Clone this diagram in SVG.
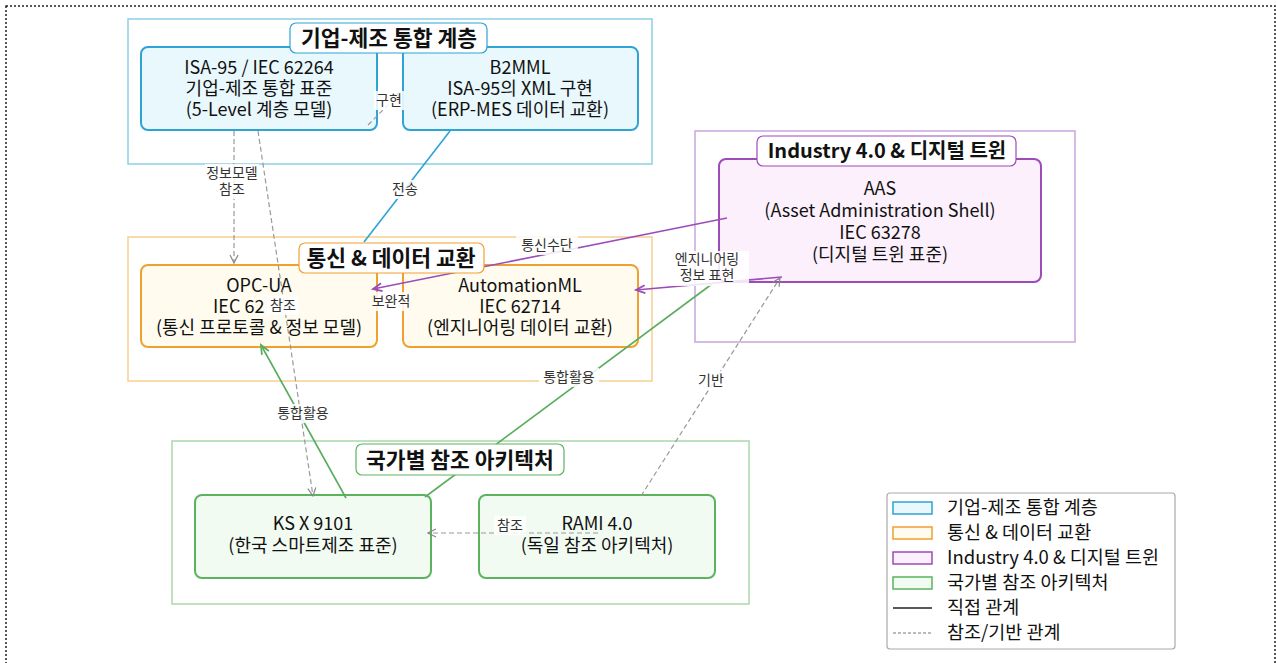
<svg xmlns="http://www.w3.org/2000/svg" width="1276" height="663" viewBox="0 0 1276 663">
<defs>
<style>
text{font-family:"Noto Sans CJK KR","Noto Sans",sans-serif;fill:#111;}
.nt{font-size:18px;text-anchor:middle;}
.tt{font-size:21.5px;font-weight:bold;text-anchor:middle;}
.el{font-size:14px;text-anchor:middle;fill:#333;}
.lg{font-size:18.5px;}
.lb{fill:#fff;fill-opacity:0.85;}
.cl{fill:none;stroke-width:1.5;}
.nd{stroke-width:2;}
.dash{fill:none;stroke:#999;stroke-width:1.2;stroke-dasharray:5,3;}
</style>
<marker id="ag" markerWidth="10" markerHeight="10" refX="9" refY="5" orient="auto" markerUnits="userSpaceOnUse"><path d="M1,1 L9,5 L1,9" fill="none" stroke="#888" stroke-width="1.2"/></marker>
<marker id="ap" markerWidth="12" markerHeight="10" refX="10" refY="5" orient="auto" markerUnits="userSpaceOnUse"><path d="M1,1 L10,5 L1,9" fill="none" stroke="#9b4cb8" stroke-width="1.8"/></marker>
<marker id="agr" markerWidth="12" markerHeight="10" refX="10" refY="5" orient="auto" markerUnits="userSpaceOnUse"><path d="M1,1 L10,5 L1,9" fill="none" stroke="#5aad5e" stroke-width="1.8"/></marker>
</defs>
<rect x="6" y="6" width="1269" height="662" fill="#fff" stroke="#222" stroke-width="1.5" stroke-dasharray="2,2"/>

<g id="cluster-enterprise">
<rect x="128" y="19" width="524" height="145" class="cl" stroke="#8ecfe6"/>
</g>
<g id="cluster-comm">
<rect x="128" y="237" width="524" height="144" class="cl" stroke="#f8cf90"/>
</g>
<g id="cluster-industry">
<rect x="695" y="131" width="380" height="211" class="cl" stroke="#c9a6dc"/>
</g>
<g id="cluster-national">
<rect x="172" y="441" width="577" height="163" class="cl" stroke="#a9d9a9"/>
</g>

<g id="node-isa95">
<rect x="141" y="47" width="236" height="83" rx="7" class="nd" fill="#e9f8fd" stroke="#2ea3d5"/>
<text class="nt" x="259" y="74">ISA-95 / IEC 62264<tspan x="259" dy="21">기업-제조 통합 표준</tspan><tspan x="259" dy="21">(5-Level 계층 모델)</tspan></text>
</g>
<g id="node-b2mml">
<rect x="403" y="47" width="235" height="83" rx="7" class="nd" fill="#e9f8fd" stroke="#2ea3d5"/>
<text class="nt" x="520" y="74">B2MML<tspan x="520" dy="21">ISA-95의 XML 구현</tspan><tspan x="520" dy="21">(ERP-MES 데이터 교환)</tspan></text>
</g>
<g id="node-opcua">
<rect x="141" y="265" width="236" height="82" rx="7" class="nd" fill="#fffcef" stroke="#f0a030"/>
<text class="nt" x="259" y="292">OPC-UA<tspan x="213" dy="21" style="text-anchor:start">IEC 62</tspan><tspan x="259" dy="21">(통신 프로토콜 &amp; 정보 모델)</tspan></text>
</g>
<g id="node-automationml">
<rect x="403" y="265" width="235" height="82" rx="7" class="nd" fill="#fffcef" stroke="#f0a030"/>
<text class="nt" x="520" y="292">AutomationML<tspan x="520" dy="21">IEC 62714</tspan><tspan x="520" dy="21">(엔지니어링 데이터 교환)</tspan></text>
</g>
<g id="node-aas">
<rect x="719" y="159" width="322" height="123" rx="7" class="nd" fill="#fcf0fc" stroke="#9b4cb8"/>
<text class="nt" x="880" y="195">AAS<tspan x="880" dy="22">(Asset Administration Shell)</tspan><tspan x="880" dy="22">IEC 63278</tspan><tspan x="880" dy="22">(디지털 트윈 표준)</tspan></text>
</g>
<g id="node-ksx9101">
<rect x="195" y="495" width="236" height="83" rx="7" class="nd" fill="#f2fbf2" stroke="#5cb35f"/>
<text class="nt" x="313" y="530">KS X 9101<tspan x="313" dy="22">(한국 스마트제조 표준)</tspan></text>
</g>
<g id="node-rami">
<rect x="479" y="495" width="236" height="83" rx="7" class="nd" fill="#f2fbf2" stroke="#5cb35f"/>
<text class="nt" x="597" y="530">RAMI 4.0<tspan x="597" dy="22">(독일 참조 아키텍처)</tspan></text>
</g>

<g id="connectors">
<line x1="368" y1="125" x2="400" y2="93" class="dash" marker-end="url(#ag)"/>
<line x1="234" y1="131" x2="234" y2="263" class="dash" marker-end="url(#ag)"/>
<line x1="258" y1="131" x2="313" y2="496" class="dash" marker-end="url(#ag)"/>
<line x1="450" y1="131" x2="364" y2="242" stroke="#2ea3d5" stroke-width="1.6"/>
<line x1="727" y1="218" x2="373" y2="289" stroke="#9b4cb8" stroke-width="1.6" marker-end="url(#ap)"/>
<line x1="782" y1="277" x2="636" y2="290" stroke="#9b4cb8" stroke-width="1.6" marker-end="url(#ap)"/>
<line x1="346" y1="498" x2="261" y2="345" stroke="#5aad5e" stroke-width="1.6" marker-end="url(#agr)"/>
<line x1="425" y1="497" x2="712" y2="284" stroke="#5aad5e" stroke-width="1.6"/>
<line x1="641" y1="496" x2="780" y2="278" class="dash" marker-end="url(#ag)"/>
<line x1="598" y1="533" x2="428" y2="533" class="dash" marker-end="url(#ag)"/>

<rect x="374" y="91" width="30" height="19" class="lb"/>
<text class="el" x="389" y="105">구현</text>
<rect x="205" y="164" width="54" height="35" class="lb"/>
<text class="el" x="232" y="178">정보모델<tspan x="232" dy="16">참조</tspan></text>
<rect x="267" y="296" width="32" height="19" class="lb"/>
<text class="el" x="283" y="310">참조</text>
<rect x="389" y="180" width="32" height="19" class="lb"/>
<text class="el" x="405" y="194">전송</text>
<rect x="516" y="236" width="62" height="19" class="lb"/>
<text class="el" x="547" y="250">통신수단</text>
<rect x="665" y="251" width="84" height="35" class="lb"/>
<text class="el" x="707" y="264">엔지니어링<tspan x="707" dy="16">정보 표현</tspan></text>
<rect x="374" y="292" width="34" height="19" class="lb"/>
<text class="el" x="391" y="306">보완적</text>
<rect x="273" y="404" width="60" height="19" class="lb"/>
<text class="el" x="303" y="418">통합활용</text>
<rect x="539" y="368" width="60" height="19" class="lb"/>
<text class="el" x="569" y="382">통합활용</text>
<rect x="696" y="371" width="30" height="19" class="lb"/>
<text class="el" x="711" y="385">기반</text>
<rect x="494" y="516" width="32" height="19" class="lb"/>
<text class="el" x="510" y="530">참조</text>
</g>

<g id="title-enterprise">
<rect x="290" y="23" width="197" height="30" rx="6" fill="#fff" stroke="#2ea3d5" stroke-width="1.2"/>
<text class="tt" x="389" y="46">기업-제조 통합 계층</text>
</g>
<g id="title-comm">
<rect x="299" y="243" width="185" height="30" rx="6" fill="#fff" stroke="#f0a030" stroke-width="1.2"/>
<text class="tt" x="391" y="266">통신 &amp; 데이터 교환</text>
</g>
<g id="title-industry">
<rect x="757" y="136" width="259" height="30" rx="6" fill="#fff" stroke="#9b4cb8" stroke-width="1.2"/>
<text class="tt" x="887" y="158" style="font-size:20px">Industry 4.0 &amp; 디지털 트윈</text>
</g>
<g id="title-national">
<rect x="356" y="444" width="208" height="31" rx="6" fill="#fff" stroke="#5cb35f" stroke-width="1.2"/>
<text class="tt" x="460" y="468">국가별 참조 아키텍처</text>
</g>

<g id="legend">
<rect x="887" y="493" width="288" height="156" rx="3" fill="#fff" stroke="#aaa" stroke-width="1.2"/>
<rect x="893" y="502" width="39" height="12" fill="#e9f8fd" stroke="#2ea3d5" stroke-width="1.5"/>
<text class="lg" x="947" y="514">기업-제조 통합 계층</text>
<rect x="893" y="527" width="39" height="12" fill="#fffcef" stroke="#f0a030" stroke-width="1.5"/>
<text class="lg" x="947" y="539">통신 &amp; 데이터 교환</text>
<rect x="893" y="552" width="39" height="12" fill="#fcf0fc" stroke="#9b4cb8" stroke-width="1.5"/>
<text class="lg" x="947" y="564">Industry 4.0 &amp; 디지털 트윈</text>
<rect x="893" y="577" width="39" height="12" fill="#f2fbf2" stroke="#5cb35f" stroke-width="1.5"/>
<text class="lg" x="947" y="589">국가별 참조 아키텍처</text>
<line x1="893" y1="608" x2="932" y2="608" stroke="#222" stroke-width="1.5"/>
<text class="lg" x="947" y="614">직접 관계</text>
<line x1="893" y1="633" x2="932" y2="633" stroke="#777" stroke-width="1.2" stroke-dasharray="3,2"/>
<text class="lg" x="947" y="639">참조/기반 관계</text>
</g>
</svg>
